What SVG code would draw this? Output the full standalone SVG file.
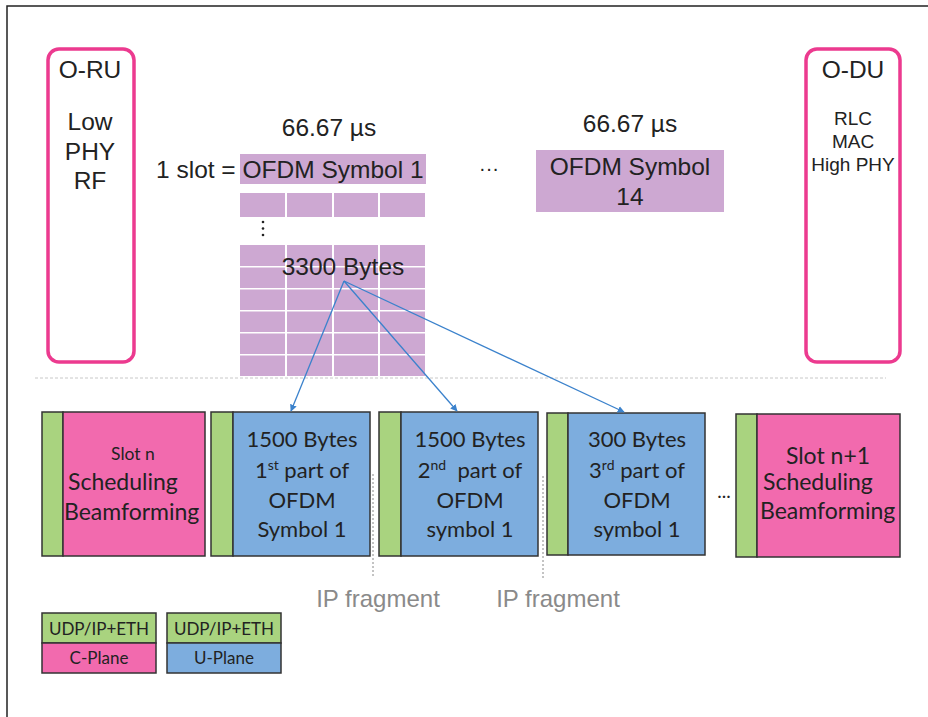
<svg xmlns="http://www.w3.org/2000/svg" width="928" height="717" viewBox="0 0 928 717">
  <defs>
    <marker id="arrow" viewBox="0 0 10 10" refX="9" refY="5" markerWidth="7" markerHeight="7" markerUnits="userSpaceOnUse" orient="auto">
      <path d="M0,0 L10,5 L0,10 z" fill="#3B82CC"/>
    </marker>
    <style>
      .sans { font-family: "Liberation Sans", Arial, sans-serif; fill: #222; }
      .cal { font-family: Lato, "Open Sans", sans-serif; fill: #222; }
      .unit { fill: none; stroke: #EC3A8F; stroke-width: 3.5; }
      .sym { fill: #CDA8D2; }
      .hdr { fill: #A9D37F; stroke: #333; stroke-width: 1.5; }
      .cpl { fill: #F26AAE; stroke: #333; stroke-width: 1.5; }
      .upl { fill: #7DADDE; stroke: #333; stroke-width: 1.5; }
      .frag { stroke: #888; stroke-width: 1; stroke-dasharray: 2 2; fill: none; }
      .link { stroke: #3B82CC; stroke-width: 1.3; fill: none; marker-end: url(#arrow); }
    </style>
  </defs>
  <rect width="928" height="717" fill="#fff"/>
  <!-- outer frame -->
  <path d="M7,717 V6 H928" fill="none" stroke="#222" stroke-width="1.5"/>

  <!-- O-RU -->
  <g id="o-ru">
    <rect class="unit" x="48" y="49" width="86" height="313" rx="11"/>
    <text class="sans" font-size="24.5" text-anchor="middle" x="90" y="78">O-RU</text>
    <text class="sans" font-size="24.5" text-anchor="middle" x="90" y="130">Low</text>
    <text class="sans" font-size="24.5" text-anchor="middle" x="90" y="160">PHY</text>
    <text class="sans" font-size="24.5" text-anchor="middle" x="90" y="189">RF</text>
  </g>

  <!-- O-DU -->
  <g id="o-du">
    <rect class="unit" x="806" y="49" width="94" height="313" rx="11"/>
    <text class="sans" font-size="24.5" text-anchor="middle" x="853" y="78">O-DU</text>
    <text class="sans" font-size="19" text-anchor="middle" x="853" y="125">RLC</text>
    <text class="sans" font-size="19" text-anchor="middle" x="853" y="148">MAC</text>
    <text class="sans" font-size="19" text-anchor="middle" x="853" y="171">High PHY</text>
  </g>

  <!-- slot made of OFDM symbols -->
  <g id="symbol-1">
    <text class="sans" font-size="24.5" text-anchor="middle" x="329" y="136">66.67 µs</text>
    <text class="sans" font-size="24.5" x="156" y="178">1 slot =</text>
    <rect class="sym" x="240" y="154" width="186" height="30"/>
    <text class="sans" font-size="24.5" text-anchor="middle" x="333" y="178">OFDM Symbol 1</text>
    <!-- first row of resource grid -->
    <g class="sym">
      <rect x="240" y="193" width="45" height="24"/>
      <rect x="287" y="193" width="45" height="24"/>
      <rect x="334" y="193" width="44" height="24"/>
      <rect x="380" y="193" width="45" height="24"/>
    </g>
    <g fill="#222">
      <circle cx="263" cy="222" r="1.3"/>
      <circle cx="263" cy="228.5" r="1.3"/>
      <circle cx="263" cy="235" r="1.3"/>
    </g>
  </g>

  <g id="bytes-3300">
    <g class="sym">
      <rect x="240" y="245" width="45" height="21"/>
      <rect x="287" y="245" width="45" height="21"/>
      <rect x="334" y="245" width="44" height="21"/>
      <rect x="380" y="245" width="45" height="21"/>
      <rect x="240" y="267.5" width="45" height="20.5"/>
      <rect x="287" y="267.5" width="45" height="20.5"/>
      <rect x="334" y="267.5" width="44" height="20.5"/>
      <rect x="380" y="267.5" width="45" height="20.5"/>
      <rect x="240" y="289.5" width="45" height="20.5"/>
      <rect x="287" y="289.5" width="45" height="20.5"/>
      <rect x="334" y="289.5" width="44" height="20.5"/>
      <rect x="380" y="289.5" width="45" height="20.5"/>
      <rect x="240" y="311.5" width="45" height="20.5"/>
      <rect x="287" y="311.5" width="45" height="20.5"/>
      <rect x="334" y="311.5" width="44" height="20.5"/>
      <rect x="380" y="311.5" width="45" height="20.5"/>
      <rect x="240" y="333.5" width="45" height="20.5"/>
      <rect x="287" y="333.5" width="45" height="20.5"/>
      <rect x="334" y="333.5" width="44" height="20.5"/>
      <rect x="380" y="333.5" width="45" height="20.5"/>
      <rect x="240" y="355.5" width="45" height="20.5"/>
      <rect x="287" y="355.5" width="45" height="20.5"/>
      <rect x="334" y="355.5" width="44" height="20.5"/>
      <rect x="380" y="355.5" width="45" height="20.5"/>
    </g>
    <text class="sans" font-size="24.5" text-anchor="middle" x="343" y="275">3300 Bytes</text>
  </g>

  <g id="ellipsis-top">
    <text class="sans" font-size="20" text-anchor="middle" x="489" y="175">···</text>
  </g>

  <g id="symbol-14">
    <text class="sans" font-size="24.5" text-anchor="middle" x="630" y="132">66.67 µs</text>
    <rect class="sym" x="536" y="150" width="188" height="62"/>
    <text class="sans" font-size="24.5" text-anchor="middle" x="630" y="175">OFDM Symbol</text>
    <text class="sans" font-size="24.5" text-anchor="middle" x="630" y="205">14</text>
  </g>

  <!-- separator between slot view and packet view -->
  <line x1="35" y1="378" x2="886" y2="378" stroke="#c8c8c8" stroke-width="1" stroke-dasharray="3 2"/>

  <!-- packets on the fronthaul -->
  <g id="c-plane-slot-n">
    <rect class="hdr" x="42" y="412" width="21" height="144"/>
    <rect class="cpl" x="63" y="412" width="142" height="144"/>
    <text class="cal" font-size="17.5" text-anchor="middle" x="133" y="460">Slot n</text>
    <text class="cal" font-size="23" x="68" y="490">Scheduling</text>
    <text class="cal" font-size="23" x="64" y="520">Beamforming</text>
  </g>

  <g id="u-plane-1">
    <rect class="hdr" x="211" y="412" width="22" height="144"/>
    <rect class="upl" x="233" y="412" width="137" height="144"/>
    <g class="cal" font-size="22" text-anchor="middle">
      <text x="302" y="447">1500 Bytes</text>
      <text x="302" y="478">1<tspan font-size="14" dy="-8">st</tspan><tspan dy="8"> part of</tspan></text>
      <text x="302" y="508">OFDM</text>
      <text x="302" y="537">Symbol 1</text>
    </g>
  </g>

  <g id="u-plane-2">
    <rect class="hdr" x="379" y="412" width="22" height="144"/>
    <rect class="upl" x="401" y="412" width="137" height="144"/>
    <g class="cal" font-size="22" text-anchor="middle">
      <text x="470" y="447">1500 Bytes</text>
      <text x="470" y="478">2<tspan font-size="14" dy="-8">nd</tspan><tspan dy="8">&#160; part of</tspan></text>
      <text x="470" y="508">OFDM</text>
      <text x="470" y="537">symbol 1</text>
    </g>
  </g>

  <g id="u-plane-3">
    <rect class="hdr" x="547" y="413" width="21" height="142"/>
    <rect class="upl" x="568" y="413" width="137" height="142"/>
    <g class="cal" font-size="22" text-anchor="middle">
      <text x="637" y="447">300 Bytes</text>
      <text x="637" y="478">3<tspan font-size="14" dy="-8">rd</tspan><tspan dy="8"> part of</tspan></text>
      <text x="637" y="508">OFDM</text>
      <text x="637" y="537">symbol 1</text>
    </g>
  </g>

  <g id="ellipsis-bottom">
    <text class="cal" font-size="19" text-anchor="middle" x="724" y="498">...</text>
  </g>

  <g id="c-plane-slot-n1">
    <rect class="hdr" x="736" y="414" width="21" height="143"/>
    <rect class="cpl" x="757" y="414" width="143" height="143"/>
    <text class="cal" font-size="23" text-anchor="middle" x="828" y="464">Slot n+1</text>
    <text class="cal" font-size="23" x="763" y="490">Scheduling</text>
    <text class="cal" font-size="23" x="760" y="519">Beamforming</text>
  </g>

  <!-- IP fragmentation boundaries -->
  <g id="ip-fragment-1">
    <line class="frag" x1="373" y1="474" x2="373" y2="578"/>
    <text font-family="Liberation Sans, Arial, sans-serif" font-size="24" fill="#8a8a8a" text-anchor="middle" x="378" y="607">IP fragment</text>
  </g>
  <g id="ip-fragment-2">
    <line class="frag" x1="543" y1="476" x2="543" y2="578"/>
    <text font-family="Liberation Sans, Arial, sans-serif" font-size="24" fill="#8a8a8a" text-anchor="middle" x="558" y="607">IP fragment</text>
  </g>

  <!-- legend -->
  <g id="legend-c-plane">
    <rect class="hdr" x="42" y="613" width="114" height="30"/>
    <rect class="cpl" x="42" y="643" width="114" height="30"/>
    <text class="cal" font-size="17" text-anchor="middle" x="99" y="635">UDP/IP+ETH</text>
    <text class="cal" font-size="17" text-anchor="middle" x="99" y="664">C-Plane</text>
  </g>
  <g id="legend-u-plane">
    <rect class="hdr" x="167" y="613" width="114" height="30"/>
    <rect class="upl" x="167" y="643" width="114" height="30"/>
    <text class="cal" font-size="17" text-anchor="middle" x="224" y="635">UDP/IP+ETH</text>
    <text class="cal" font-size="17" text-anchor="middle" x="224" y="664">U-Plane</text>
  </g>

  <!-- fragmentation of the symbol into packets -->
  <g id="connectors">
    <line class="link" x1="344" y1="281" x2="291" y2="411"/>
    <line class="link" x1="344" y1="281" x2="457" y2="411"/>
    <line class="link" x1="344" y1="281" x2="624" y2="412"/>
  </g>
</svg>
